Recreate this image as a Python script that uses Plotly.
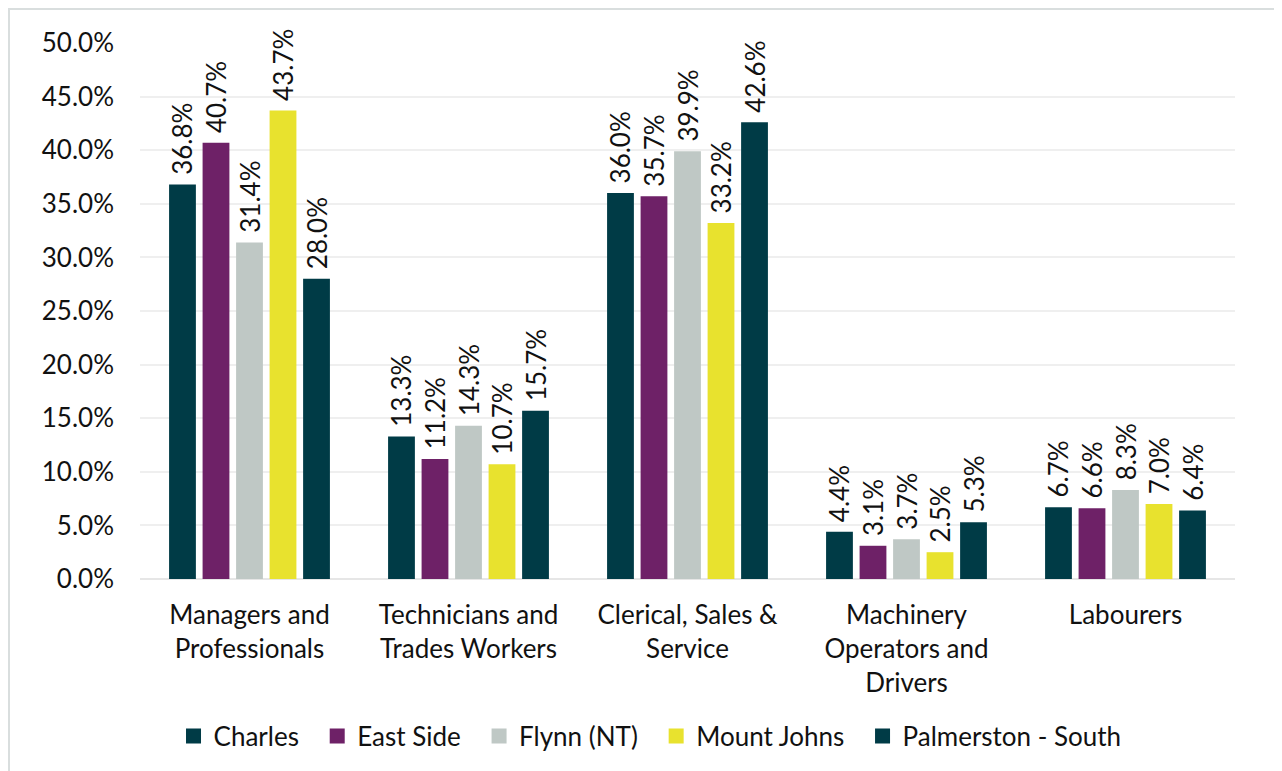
import plotly.graph_objects as go

categories = ["Managers and<br>Professionals", "Technicians and<br>Trades Workers",
              "Clerical, Sales &<br>Service", "Machinery<br>Operators and<br>Drivers", "Labourers"]
series_names = ["Charles", "East Side", "Flynn (NT)", "Mount Johns", "Palmerston - South"]
charles = [36.8, 13.3, 36.0, 4.4, 6.7]
east_side = [40.7, 11.2, 35.7, 3.1, 6.6]
flynn = [31.4, 14.3, 39.9, 3.7, 8.3]
mount_johns = [43.7, 10.7, 33.2, 2.5, 7.0]
palmerston = [28.0, 15.7, 42.6, 5.3, 6.4]
series_values = [charles, east_side, flynn, mount_johns, palmerston]
colors = ["#003B46", "#6E2167", "#BFC8C5", "#E8E22E", "#003B46"]
tick_vals = [0, 5, 10, 15, 20, 25, 30, 35, 40, 45, 50]
tick_text = [f"{v:.1f}%" for v in tick_vals]

FONT = "Lato, 'Open Sans', sans-serif"
FS = 26

fig = go.Figure()
for name, vals, col in zip(series_names, series_values, colors):
    fig.add_trace(go.Bar(
        name=name, x=categories, y=vals, marker_color=col,
        marker_line_width=0, showlegend=False,
        text=["\u00a0" + f"{v:.1f}%" for v in vals], textposition="outside",
        textangle=-90, cliponaxis=False,
        textfont=dict(size=FS, color="#111111", family=FONT),
    ))
# legend proxies with square swatches
for name, col in zip(series_names, colors):
    fig.add_trace(go.Scatter(
        x=[None], y=[None], mode="markers", name=name + "\u00a0\u00a0",
        marker=dict(symbol="square", size=15, color=col), hoverinfo="skip",
    ))

W, H = 1274, 763
L, R, T, B = 132, 47, 35, 192
pw, ph = W - L - R, H - T - B

fig.update_layout(
    width=W, height=H,
    margin=dict(l=L, r=R, t=T, b=B),
    barmode="group", bargap=0.235, bargroupgap=0.2,
    plot_bgcolor="white", paper_bgcolor="white",
    font=dict(family=FONT, size=FS, color="#111111"),
    uniformtext=dict(minsize=FS, mode="show"),
    legend=dict(orientation="h", x=0.4717, xanchor="center", y=-0.293, yanchor="middle",
                font=dict(size=FS, family=FONT), traceorder="normal",
                itemwidth=30),
    xaxis=dict(showgrid=False, showline=False, ticks="", tickfont=dict(size=FS),
               ticklabelstandoff=18),
    yaxis=dict(range=[0, 50], tickvals=tick_vals, ticktext=tick_text,
               showgrid=True, gridcolor="#EFEFEF", gridwidth=2,
               zeroline=True, zerolinecolor="#E6E6E6", zerolinewidth=2,
               showline=False, ticks="", tickfont=dict(size=FS),
               ticklabelstandoff=25),
    shapes=[dict(type="rect", xref="paper", yref="paper",
                 x0=(1 - L) / pw, x1=(W - 1 - L) / pw,
                 y0=-(H + 20 - T - ph) / ph - 0.05, y1=(H - B - 1) / ph,
                 line=dict(color="#D9DEDE", width=2), layer="below")],
)
fig.write_html("out.html")
